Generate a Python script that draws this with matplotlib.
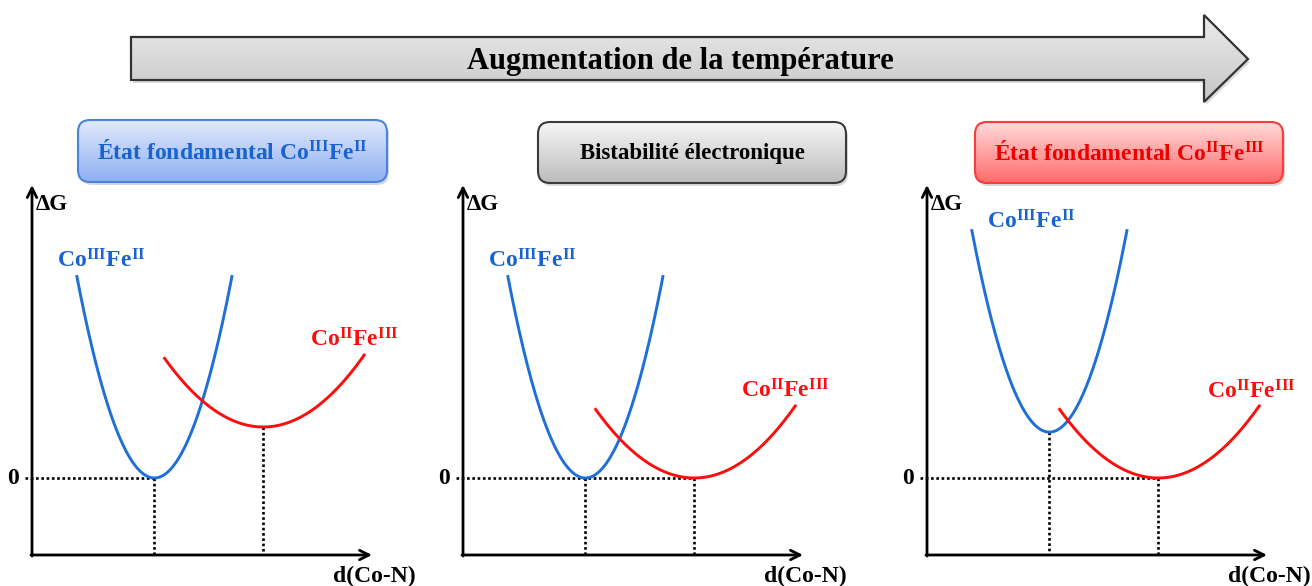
import numpy as np
import matplotlib
matplotlib.use("Agg")
import matplotlib.pyplot as plt
from matplotlib.patches import FancyBboxPatch, Polygon

# ---------------- data ----------------
panel_titles = [r"État fondamental $\mathrm{Co}^{\mathrm{III}}\mathrm{Fe}^{\mathrm{II}}$",
                "Bistabilité électronique",
                r"État fondamental $\mathrm{Co}^{\mathrm{II}}\mathrm{Fe}^{\mathrm{III}}$"]
main_title = "Augmentation de la température"
blue_name = r"$\mathrm{Co}^{\mathrm{III}}\mathrm{Fe}^{\mathrm{II}}$"
red_name = r"$\mathrm{Co}^{\mathrm{II}}\mathrm{Fe}^{\mathrm{III}}$"
x_label = "d(Co-N)"
y_label = "ΔG"
zero_label = "0"

blue_min_d = [3.6, 3.6, 3.6]      # d(Co-N) at CoIII-FeII minimum
blue_min_G = [0.0, 0.0, 1.35]     # ΔG at CoIII-FeII minimum
red_min_d = [6.8, 6.8, 6.8]       # d(Co-N) at CoII-FeIII minimum
red_min_G = [1.5, 0.0, 0.0]       # ΔG at CoII-FeIII minimum
blue_k = 1.14                     # curvature of CoIII-FeII well
red_k = 0.24                      # curvature of CoII-FeIII well
blue_span = [1.32, 5.88]          # d range drawn for CoIII-FeII
red_span = [3.9, 9.77]            # d range drawn for CoII-FeIII

# ---------------- style ----------------
plt.rcParams['font.family'] = ['Liberation Serif', 'DejaVu Serif']
plt.rcParams['font.weight'] = 'bold'
plt.rcParams['mathtext.fontset'] = 'custom'
plt.rcParams['mathtext.rm'] = 'Liberation Serif:bold'
plt.rcParams['mathtext.bf'] = 'Liberation Serif:bold'
plt.rcParams['mathtext.it'] = 'Liberation Serif:bold:italic'

BLUE = '#1f6fd8'
BLUE_TXT = '#1862d2'
RED = '#ff0d0d'
W, H = 1312, 586
fig = plt.figure(figsize=(W / 100, H / 100), dpi=100)

bg = fig.add_axes([0, 0, 1, 1])
bg.set_axis_off()


def vgrad(ax, patch, x0, y0, x1, y1, top, bottom):
    c0 = np.array(matplotlib.colors.to_rgb(top))
    c1 = np.array(matplotlib.colors.to_rgb(bottom))
    t = np.linspace(0, 1, 128)[:, None, None]
    img = c0 * (1 - t) + c1 * t
    im = ax.imshow(img, extent=(x0, x1, y1, y0), origin='upper',
                   aspect='auto', zorder=patch.get_zorder() - 0.1,
                   interpolation='bilinear')
    im.set_clip_path(patch)


# big arrow
arrow_pts = [(131, 37), (1204, 37), (1204, 15), (1248, 59), (1204, 102),
             (1204, 80), (131, 80)]
shadow = Polygon([(x + 2, y + 3) for x, y in arrow_pts], closed=True,
                 fc='#bbbbbb', ec='none', alpha=0.5, zorder=1)
bg.add_patch(shadow)
arr = Polygon(arrow_pts, closed=True, fc='none', ec='#333333', lw=1.6, zorder=3)
bg.add_patch(arr)
vgrad(bg, arr, 131, 15, 1248, 102, '#ececec', '#c6c6c6')
bg.text(680, 61, main_title, fontsize=22, ha='center', va='center',
        color='black', zorder=4)

# title boxes
boxes = [(78, 120, 387, 182, '#e2e9fc', '#8db0f2', '#4a84dc', BLUE_TXT, 17),
         (538, 122, 846, 183, '#f6f6f6', '#bcbcbc', '#3a3a3a', 'black', 16.5),
         (975, 122, 1283, 183, '#ffdada', '#ff6a6a', '#ff3a3a', '#ee0000', 17)]
for (x0, y0, x1, y1, ctop, cbot, ec, tc, fs), title in zip(boxes, panel_titles):
    sh = FancyBboxPatch((x0 + 2, y0 + 3), x1 - x0, y1 - y0,
                        boxstyle='round,pad=0,rounding_size=12',
                        fc='#aaaaaa', ec='none', alpha=0.45, zorder=1)
    bg.add_patch(sh)
    p = FancyBboxPatch((x0, y0), x1 - x0, y1 - y0,
                       boxstyle='round,pad=0,rounding_size=12',
                       fc='none', ec=ec, lw=1.5, zorder=3)
    bg.add_patch(p)
    vgrad(bg, p, x0, y0, x1, y1, ctop, cbot)
    bg.text((x0 + x1) / 2, (y0 + y1) / 2 + 1, title, fontsize=fs,
            ha='center', va='center', color=tc, zorder=4)

bg.set_xlim(0, W)
bg.set_ylim(H, 0)

# ---------------- panels ----------------
origins = [32, 463, 927]
px_per_unit = 34.0
y_zero_px, y_bot_px, y_top_px = 478, 555, 185
ymin = -(y_bot_px - y_zero_px) / px_per_unit
ymax = (y_zero_px - y_top_px) / px_per_unit
blue_label_pos = [(0.74, 6.2), (0.74, 6.2), (1.76, 7.35)]
red_label_pos = [(8.18, 3.88), (8.18, 2.38), (8.24, 2.35)]
dot = (0, (1, 1))

for i, ox in enumerate(origins):
    ax = fig.add_axes([ox / W, (H - y_bot_px) / H, 340 / W, (y_bot_px - y_top_px) / H])
    ax.set_xlim(0, 10)
    ax.set_ylim(ymin, ymax)
    ax.set_axis_off()
    ax.patch.set_alpha(0)

    # axes arrows
    ap = dict(arrowstyle='->', lw=2.0, color='black', shrinkA=0, shrinkB=0,
              mutation_scale=17)
    ax.annotate('', xy=(10.0, ymin), xytext=(-0.03, ymin), arrowprops=ap,
                annotation_clip=False)
    ax.annotate('', xy=(0, ymax), xytext=(0, ymin - 0.03), arrowprops=ap,
                annotation_clip=False)

    # wells
    db = np.linspace(blue_span[0], blue_span[1], 200)
    gb = blue_min_G[i] + blue_k * (db - blue_min_d[i]) ** 2
    ax.plot(db, gb, color=BLUE, lw=2.1, clip_on=False, zorder=3)
    dr = np.linspace(red_span[0], red_span[1], 200)
    gr = red_min_G[i] + red_k * (dr - red_min_d[i]) ** 2
    ax.plot(dr, gr, color=RED, lw=2.1, clip_on=False, zorder=3)

    # dotted guides
    zero_ds = [d for d, g in ((blue_min_d[i], blue_min_G[i]), (red_min_d[i], red_min_G[i])) if g == 0]
    ax.plot([-0.2, max(zero_ds)], [0, 0], color='black', lw=1.9,
            ls=dot, clip_on=False, zorder=2)
    for d, g in ((blue_min_d[i], blue_min_G[i]), (red_min_d[i], red_min_G[i])):
        ax.plot([d, d], [g, ymin], color='black', lw=1.9, ls=dot,
                clip_on=False, zorder=2)

    # labels
    ax.text(-0.55, 0, zero_label, fontsize=17, ha='center', va='center')
    ax.text(0.1, 8.03, y_label, fontsize=16.5, ha='left', va='center')
    ax.text(11.27, -2.91, x_label, fontsize=17, ha='right', va='center')
    ax.text(*blue_label_pos[i], blue_name, fontsize=17,
            color=BLUE_TXT, ha='left', va='baseline')
    ax.text(*red_label_pos[i], red_name, fontsize=17,
            color=RED, ha='left', va='baseline')

fig.savefig('out.png', dpi=100)
